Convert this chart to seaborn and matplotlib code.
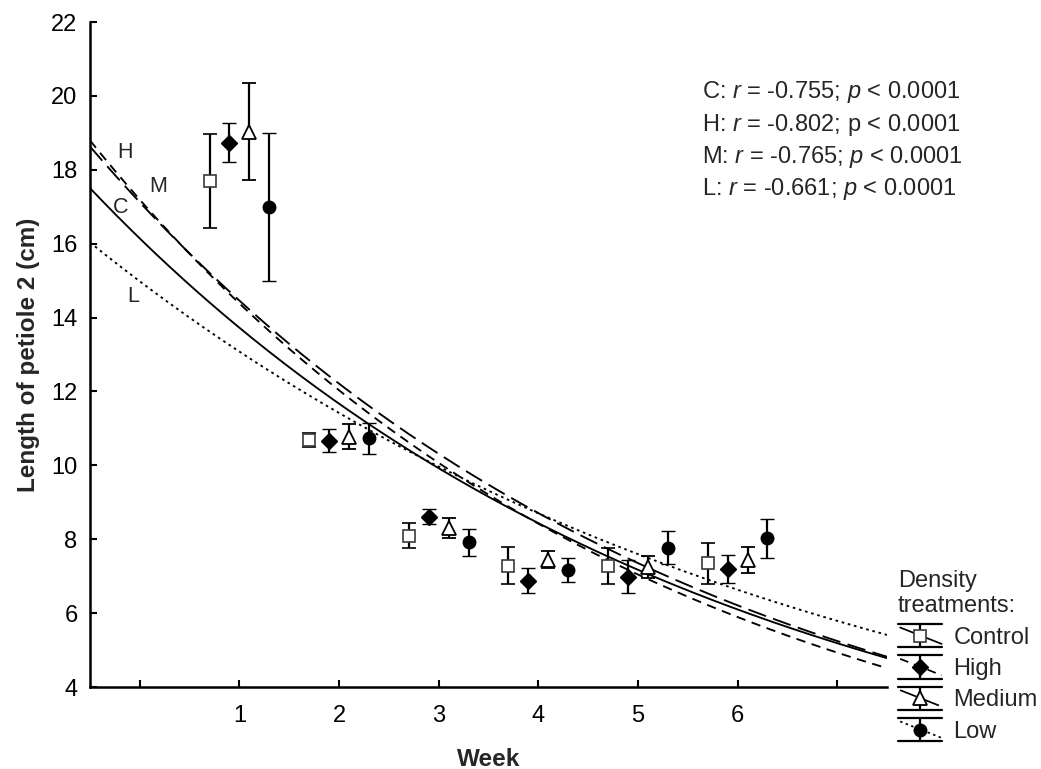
import numpy as np
import pandas as pd
import matplotlib
matplotlib.use("Agg")
import matplotlib.pyplot as plt
from matplotlib.lines import Line2D
from matplotlib.legend_handler import HandlerBase
import seaborn as sns

# ---- data -------------------------------------------------------------
weeks = [1, 2, 3, 4, 5, 6]
groups = ["Control", "High", "Medium", "Low"]
group_codes = ["C", "H", "M", "L"]
week_offsets = [-0.3, -0.1, 0.1, 0.3]

control_mean = [17.7, 10.68, 8.1, 7.28, 7.28, 7.35]
control_err = [1.27, 0.19, 0.33, 0.50, 0.48, 0.55]
high_mean = [18.73, 10.67, 8.61, 6.88, 6.99, 7.19]
high_err = [0.53, 0.32, 0.21, 0.34, 0.45, 0.38]
medium_mean = [19.03, 10.78, 8.30, 7.44, 7.24, 7.44]
medium_err = [1.32, 0.33, 0.28, 0.23, 0.30, 0.36]
low_mean = [17.0, 10.73, 7.92, 7.17, 7.77, 8.02]
low_err = [2.0, 0.42, 0.37, 0.33, 0.45, 0.52]

# exponential regression fits: length = a * exp(rate * week)
fit_at_week0 = [16.14, 17.19, 17.12, 14.98]
fit_rate = [-0.1622, -0.1784, -0.1690, -0.1358]

stats_r = ["-0.755", "-0.802", "-0.765", "-0.661"]

# ---- style ------------------------------------------------------------
sns.set_theme(style="ticks")
plt.rcParams["font.family"] = ["Liberation Sans", "DejaVu Sans"]
plt.rcParams["mathtext.fontset"] = "custom"
plt.rcParams["mathtext.rm"] = "Liberation Sans"
plt.rcParams["mathtext.it"] = "Liberation Sans:italic"

W, H = 1041, 769
fig = plt.figure(figsize=(W / 100, H / 100), dpi=100)
ax = fig.add_axes([90 / W, 1 - 687 / H, (887 - 90) / W, (687 - 22) / H])

line_dashes = {"C": "", "H": (5, 3.5), "M": (10, 4), "L": (1.4, 2.0)}
marker_style = {
    "C": dict(marker="s", ms=8.5, mfc="white", mec="#3a3a3a", mew=1.2),
    "H": dict(marker="D", ms=8, mfc="black", mec="black", mew=1.0),
    "M": dict(marker="^", ms=10, mfc="white", mec="black", mew=1.3),
    "L": dict(marker="o", ms=9, mfc="black", mec="black", mew=1.0),
}

# ---- fitted curves ----------------------------------------------------
grid = np.linspace(-0.5, 7.5, 300)
curve_df = pd.concat(
    [
        pd.DataFrame({"week": grid, "length": a * np.exp(b * grid), "group": g})
        for g, a, b in zip(group_codes, fit_at_week0, fit_rate)
    ],
    ignore_index=True,
)
sns.lineplot(
    data=curve_df, x="week", y="length", hue="group", style="group",
    palette={g: "black" for g in group_codes}, dashes=line_dashes,
    linewidth=1.35, estimator=None, legend=False, ax=ax, zorder=2,
)

# ---- means with error bars --------------------------------------------
means = [control_mean, high_mean, medium_mean, low_mean]
errs = [control_err, high_err, medium_err, low_err]
for code, off, m, e in zip(group_codes, week_offsets, means, errs):
    xs = [w + off for w in weeks]
    ax.errorbar(
        xs, m, yerr=e, linestyle="none", color="black", ecolor="black",
        elinewidth=1.6, capsize=5, capthick=1.6, zorder=3,
        **marker_style[code],
    )

# curve labels
curve_label_pos = {"H": (-0.15, 18.46), "M": (0.18, 17.56),
                   "C": (-0.19, 16.99), "L": (-0.07, 14.58)}
for code, (lx, ly) in curve_label_pos.items():
    ax.text(lx, ly, code, fontsize=15.5, ha="center", va="center")

# ---- axes -------------------------------------------------------------
ax.set_xlim(-0.5, 7.5)
ax.set_ylim(4, 22)
ax.set_xticks(range(0, 8))
ax.set_xticklabels(["", "1", "2", "3", "4", "5", "6", ""])
ax.set_yticks(range(4, 23, 2))
ax.tick_params(axis="both", direction="in", length=5, width=1.5,
               labelsize=17, color="black", labelcolor="black")
ax.tick_params(axis="x", pad=13)
ax.tick_params(axis="y", pad=9)
sns.despine(ax=ax)
for side in ("left", "bottom"):
    ax.spines[side].set_linewidth(1.8)
    ax.spines[side].set_color("black")
ax.set_xlabel("Week", fontsize=17.5, fontweight="bold")
ax.set_ylabel("Length of petiole 2 (cm)", fontsize=17.5, fontweight="bold")
ax.yaxis.set_label_coords(-62 / (887 - 90), 0.5)
ax.yaxis.label.set_va("center")
ax.xaxis.set_label_coords(0.5, -(759 - 687) / (687 - 22))
ax.xaxis.label.set_va("center")

# correlation statistics
stat_y = [92, 125, 157, 189]
for code, r, yy in zip(group_codes, stats_r, stat_y):
    p_txt = "p" if code == "H" else "$p$"
    fig.text(702 / W, 1 - yy / H, f"{code}: $r$ = {r}; {p_txt} < 0.0001",
             fontsize=17, ha="left", va="center")


# ---- legend -----------------------------------------------------------
class TreatmentKey:
    def __init__(self, code):
        self.code = code


class TreatmentKeyHandler(HandlerBase):
    def create_artists(self, legend, orig_handle, xdescent, ydescent,
                       width, height, fontsize, trans):
        code = orig_handle.code
        x0, y0 = -xdescent, -ydescent
        xc, yc = x0 + width / 2, y0 + height / 2
        arts = [
            Line2D([x0, x0 + width], [y0 + height] * 2, color="black", lw=1.6),
            Line2D([x0, x0 + width], [y0] * 2, color="black", lw=1.6),
            Line2D([xc, xc], [y0, y0 + height], color="black", lw=1.6),
        ]
        diag = Line2D([x0 + 0.05 * width, x0 + width], [y0 + 0.85 * height, y0 + 0.15 * height],
                      color="black", lw=1.25)
        if line_dashes[code]:
            diag.set_dashes(line_dashes[code])
        arts.append(diag)
        arts.append(Line2D([xc], [yc], linestyle="none", **marker_style[code]))
        for a in arts:
            a.set_transform(trans)
        return arts


handles = [TreatmentKey(c) for c in group_codes]
fig.legend(
    handles, groups, handler_map={TreatmentKey: TreatmentKeyHandler()},
    loc="upper left", bbox_to_anchor=(898 / W, 1 - 570 / H),
    frameon=False, title="Density\ntreatments:", alignment="left",
    fontsize=17, title_fontsize=17, borderpad=0, borderaxespad=0,
    handlelength=1.85, handleheight=1.15, labelspacing=0.28, handletextpad=0.5,
)

fig.savefig("out.png", dpi=100)
